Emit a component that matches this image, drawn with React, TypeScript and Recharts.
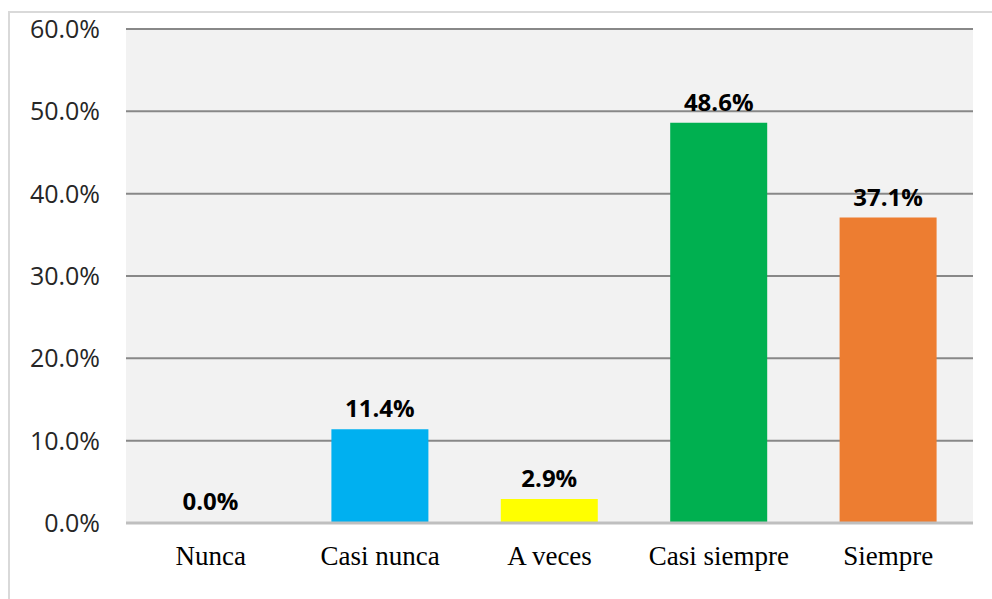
import { BarChart, Bar, XAxis, YAxis, CartesianGrid, Cell, LabelList } from "recharts";

const categories = ["Nunca", "Casi nunca", "A veces", "Casi siempre", "Siempre"];
const percentages = [0.0, 11.4, 2.9, 48.6, 37.1];
const yTicks = [0, 10, 20, 30, 40, 50, 60];

const COLORS = ["#4472c4", "#00b0f0", "#ffff00", "#00b050", "#ed7d31"];

const data = categories.map((name, i) => ({ name, value: percentages[i] }));

const fmt = (v: number) => `${Number(v).toFixed(1)}%`;

export default function App() {
  return (
    <div
      style={{
        position: "absolute",
        left: 0,
        top: 0,
        width: 992,
        height: 599,
        overflow: "hidden",
        background: "#ffffff",
      }}
    >
      {/* marco exterior */}
      <div
        style={{
          position: "absolute",
          left: 8,
          top: 11,
          width: 1000,
          height: 620,
          border: "2px solid #d9d9d9",
        }}
      />
      <div style={{ position: "absolute", left: 0, top: 0 }}>
        <BarChart
          width={992}
          height={599}
          data={data}
          margin={{ top: 29, right: 19, bottom: 0, left: 0 }}
        >
          <CartesianGrid
            vertical={false}
            fill="#f2f2f2"
            stroke="#888888"
            strokeWidth={2}
          />
          <XAxis
            dataKey="name"
            height={76}
            tickLine={false}
            tickSize={0}
            tickMargin={23}
            axisLine={{ stroke: "#bfbfbf", strokeWidth: 3 }}
            tick={{
              fill: "#000000",
              fontSize: 27,
              fontFamily: "'Liberation Serif', 'Times New Roman', serif",
            }}
            interval={0}
          />
          <YAxis
            width={126}
            domain={[0, 60]}
            ticks={yTicks}
            tickFormatter={fmt}
            axisLine={false}
            tickLine={false}
            tickSize={0}
            tickMargin={26}
            tick={{
              fill: "#262626",
              fontSize: 25,
              fontFamily: "'Open Sans', sans-serif",
            }}
          />
          <Bar dataKey="value" barSize={97} minPointSize={1} isAnimationActive={false}>
            {data.map((entry, index) => (
              <Cell key={`cell-${index}`} fill={COLORS[index % COLORS.length]} />
            ))}
            <LabelList
              dataKey="value"
              position="top"
              offset={12}
              formatter={(v: any) => fmt(v)}
              style={{
                fill: "#000000",
                fontSize: 24,
                fontWeight: "bold",
                fontFamily: "'Open Sans', sans-serif",
              }}
            />
          </Bar>
        </BarChart>
      </div>
    </div>
  );
}
